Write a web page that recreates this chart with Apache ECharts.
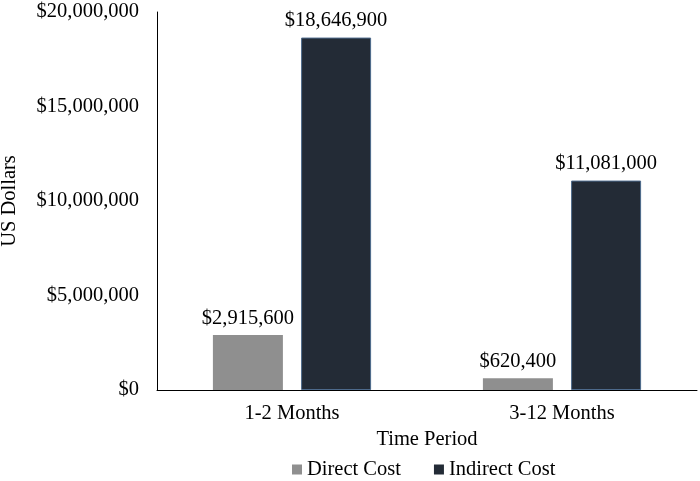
<!DOCTYPE html>
<html>
<head>
<meta charset="utf-8">
<script src="https://cdn.jsdelivr.net/npm/echarts@6/dist/echarts.min.js"></script>
<style>html,body{margin:0;padding:0;background:#fff}#c{width:700px;height:481px}</style>
</head>
<body>
<div id="c"></div>
<script>
const categories = ['1-2 Months', '3-12 Months'];
const directCost = [2915600, 620400];
const indirectCost = [18646900, 11081000];
const seriesNames = ['Direct Cost', 'Indirect Cost'];
const yTicks = [0, 5000000, 10000000, 15000000, 20000000];

const fmt = v => '$' + Number(v).toLocaleString('en-US');
const font = '"Liberation Serif", "Times New Roman", serif';
const fs = 20.5;

const chart = echarts.init(document.getElementById('c'), null, {renderer: 'canvas'});
chart.setOption({
  animation: false,
  textStyle: {fontFamily: font, color: '#000'},
  grid: {left: 157, right: 3, top: 12, bottom: 91, containLabel: false, outerBoundsMode: 'none'},
  legend: {
    left: 292, top: 459,
    itemWidth: 10, itemHeight: 10, itemGap: 33,
    icon: 'rect',
    padding: 0,
    itemStyle: {borderWidth: 0},
    textStyle: {fontFamily: font, fontSize: fs, color: '#000'},
    data: seriesNames
  },
  xAxis: {
    type: 'category', data: categories,
    name: 'Time Period', nameLocation: 'middle', nameGap: 36,
    nameTextStyle: {fontFamily: font, fontSize: fs, color: '#000'},
    axisLine: {lineStyle: {color: '#000', width: 1}},
    axisTick: {show: false},
    axisLabel: {fontFamily: font, fontSize: fs, color: '#000', margin: 13}
  },
  yAxis: {
    type: 'value', min: yTicks[0], max: yTicks[yTicks.length - 1], interval: 5000000,
    name: 'US Dollars', nameLocation: 'middle', nameGap: 137,
    nameTextStyle: {fontFamily: font, fontSize: fs, color: '#000'},
    axisLine: {show: true, lineStyle: {color: '#000', width: 1}},
    axisTick: {show: false},
    splitLine: {show: false},
    axisLabel: {fontFamily: font, fontSize: fs, color: '#000', margin: 18, formatter: fmt}
  },
  series: [
    {
      name: seriesNames[0], type: 'bar', data: directCost,
      barWidth: 70, barGap: '26%',
      itemStyle: {color: '#8f8f8f'},
      label: {show: true, position: 'top', distance: 6, fontFamily: font, fontSize: fs, color: '#000', formatter: p => fmt(p.value)}
    },
    {
      name: seriesNames[1], type: 'bar', data: indirectCost,
      barWidth: 70,
      itemStyle: {color: '#232b36', borderColor: '#4d6a8c', borderWidth: 1},
      label: {show: true, position: 'top', distance: 6, fontFamily: font, fontSize: fs, color: '#000', formatter: p => fmt(p.value)}
    }
  ]
});
</script>
</body>
</html>
